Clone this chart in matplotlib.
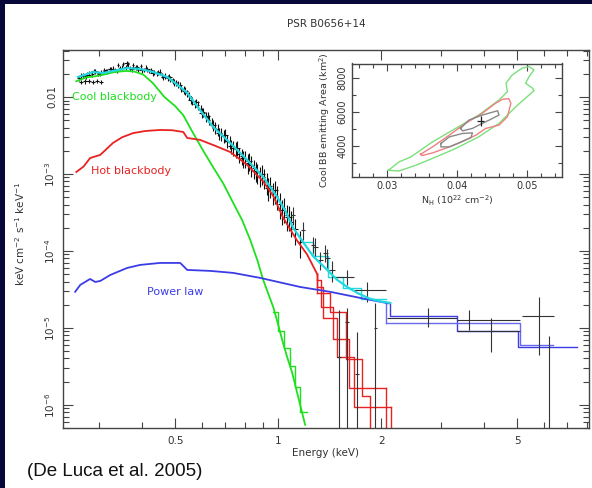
import matplotlib.pyplot as plt
import numpy as np
from matplotlib.ticker import FixedLocator, FixedFormatter, LogLocator, NullFormatter
from matplotlib.patches import Rectangle

plt.close('all')
plt.rcParams['font.family'] = ['DejaVu Sans']

# ---- spectral data points (energy keV, flux keV cm^-2 s^-1 keV^-1) ----
data_e = [0.262, 0.268, 0.274, 0.280, 0.286, 0.292, 0.298, 0.304, 0.310, 0.316,
          0.322, 0.328, 0.334, 0.340, 0.346, 0.352, 0.358, 0.364, 0.370, 0.376,
          0.383, 0.390, 0.397, 0.404, 0.411, 0.418, 0.426, 0.434, 0.442, 0.450,
          0.458, 0.466, 0.475, 0.484, 0.493, 0.502, 0.511, 0.520, 0.530, 0.540,
          0.550, 0.560, 0.571, 0.582, 0.593, 0.604, 0.616, 0.628, 0.640, 0.653,
          0.666, 0.679, 0.693, 0.707, 0.721, 0.736, 0.751, 0.766, 0.782, 0.798,
          0.815, 0.832, 0.850, 0.868, 0.887, 0.906, 0.926, 0.947, 0.968, 0.990,
          1.013, 1.037, 1.062, 1.088]
data_f = [0.0175, 0.0192, 0.0186, 0.0205, 0.0198, 0.0214, 0.0203, 0.0209, 0.0221, 0.0215,
          0.0228, 0.0234, 0.0226, 0.0262, 0.0238, 0.0270, 0.0242, 0.0265, 0.0236, 0.0258,
          0.0240, 0.0229, 0.0250, 0.0225, 0.0240, 0.0218, 0.0224, 0.0210, 0.0203, 0.0211,
          0.0192, 0.0186, 0.0179, 0.0170, 0.0164, 0.0152, 0.0145, 0.0131, 0.0124, 0.0112,
          0.0104, 0.0090, 0.0082, 0.0078, 0.0069, 0.0064, 0.0055, 0.0051, 0.0046, 0.0040,
          0.0038, 0.0033, 0.0031, 0.0027, 0.0026, 0.0022, 0.0021, 0.0018, 0.0017, 0.0016,
          0.0014, 0.0013, 0.00118, 0.00105, 0.00096, 0.00090, 0.00078, 0.00070, 0.00058, 0.00052,
          0.00041, 0.00036, 0.00029, 0.00024]
data_df = [0.0013, 0.0014, 0.0013, 0.0014, 0.0014, 0.0015, 0.0014, 0.0014, 0.0015, 0.0015,
           0.0015, 0.0016, 0.0015, 0.0016, 0.0016, 0.0017, 0.0016, 0.0017, 0.0016, 0.0017,
           0.0017, 0.0016, 0.0017, 0.0016, 0.0017, 0.0016, 0.0017, 0.0016, 0.0016, 0.0017,
           0.0016, 0.0016, 0.0016, 0.0015, 0.0015, 0.0015, 0.0015, 0.0014, 0.0013, 0.0012,
           0.0012, 0.0011, 0.0010, 0.0010, 0.0009, 0.0009, 0.0008, 0.0008, 0.0007, 0.0007,
           0.0007, 0.0006, 0.0006, 0.0005, 0.0005, 0.0005, 0.0005, 0.0004, 0.0004, 0.0004,
           0.0004, 0.0004, 0.00033, 0.00030, 0.00028, 0.00027, 0.00024, 0.00022, 0.00019, 0.00018,
           0.00015, 0.00013, 0.00011, 0.00009]

# second data set, interleaved
data2_e = [0.265, 0.277, 0.289, 0.301, 0.313, 0.325, 0.337, 0.349, 0.361, 0.373,
           0.386, 0.400, 0.414, 0.430, 0.446, 0.462, 0.479, 0.497, 0.515, 0.535,
           0.555, 0.576, 0.598, 0.622, 0.646, 0.672, 0.700, 0.728, 0.758, 0.790,
           0.823, 0.859, 0.896, 0.936, 0.978, 1.025, 1.075, 1.12, 1.16]
data2_f = [0.0190, 0.0196, 0.0218, 0.0200, 0.0219, 0.0231, 0.0219, 0.0241, 0.0274, 0.0230,
           0.0244, 0.0221, 0.0231, 0.0203, 0.0208, 0.0180, 0.0183, 0.0155, 0.0142, 0.0120,
           0.0091, 0.0085, 0.0062, 0.0056, 0.0043, 0.0034, 0.0032, 0.0023, 0.0022, 0.0016,
           0.00148, 0.00110, 0.00101, 0.00066, 0.00061, 0.00034, 0.00028, 0.00019, 0.00013]
data2_df = [0.0014, 0.0014, 0.0015, 0.0014, 0.0015, 0.0016, 0.0015, 0.0017, 0.0018, 0.0016,
            0.0017, 0.0016, 0.0017, 0.0016, 0.0016, 0.0015, 0.0016, 0.0015, 0.0015, 0.0013,
            0.0011, 0.0010, 0.0009, 0.0008, 0.0007, 0.0006, 0.0006, 0.0005, 0.0005, 0.0004,
            0.0004, 0.00032, 0.00029, 0.00022, 0.00020, 0.00012, 0.00010, 0.00007, 0.00005]

# second instrument, lowest energies
low_e = [0.265, 0.272, 0.279, 0.287, 0.295, 0.303]
low_f = [0.0156, 0.0159, 0.0161, 0.0158, 0.0160, 0.0157]
low_df = [0.0010, 0.0010, 0.0010, 0.0010, 0.0010, 0.0010]

# high energy points: energy, bin low/high, flux, flux low/high
hi_e = [1.106, 1.183, 1.266, 1.283, 1.327, 1.372, 1.391, 1.438, 1.591, 1.82, 2.746, 3.62, 4.20, 5.80]
hi_elo = [1.090, 1.165, 1.245, 1.262, 1.305, 1.350, 1.368, 1.410, 1.448, 1.669, 2.08, 3.34, 3.34, 5.17]
hi_ehi = [1.122, 1.200, 1.285, 1.305, 1.350, 1.395, 1.415, 1.466, 1.669, 2.07, 3.34, 5.10, 5.10, 6.42]
hi_f = [2.94e-4, 1.87e-4, 1.20e-4, 1.13e-4, 7.6e-5, 9.4e-5, 8.1e-5, 5.7e-5, 4.6e-5, 3.1e-5, 1.35e-5, 1.27e-5, 9.1e-6, 1.43e-5]
hi_flo = [2.2e-4, 1.4e-4, 0.95e-4, 0.85e-4, 5.6e-5, 7.2e-5, 6.0e-5, 4.0e-5, 3.6e-5, 2.2e-5, 1.03e-5, 0.94e-5, 4.9e-6, 4.5e-6]
hi_fhi = [3.7e-4, 2.4e-4, 1.50e-4, 1.45e-4, 9.8e-5, 1.18e-4, 1.05e-4, 7.4e-5, 5.7e-5, 3.9e-5, 1.82e-5, 1.71e-5, 1.35e-5, 2.53e-5]

# points whose lower error goes off the plot
ul_e = [1.507, 1.591, 1.70, 1.92, 6.20]
ul_f = [4.2e-6, 1.2e-5, 2.5e-6, 1.0e-5, 5.7e-6]
ul_fhi = [1.71e-5, 1.8e-5, 8.9e-6, 2.1e-5, 7.9e-6]

# ---- model components ----
cool_e = [0.257, 0.275, 0.292, 0.31, 0.334, 0.36, 0.38, 0.403, 0.43, 0.465, 0.50, 0.528,
          0.56, 0.60, 0.645, 0.69, 0.737, 0.785, 0.828, 0.87, 0.904, 0.935, 0.967, 1.0,
          1.027, 1.06, 1.099, 1.144, 1.199]
cool_f = [0.0160, 0.0180, 0.0186, 0.0196, 0.0212, 0.0218, 0.0214, 0.0196, 0.0152, 0.0100,
          0.0076, 0.0058, 0.0036, 0.0021, 0.00123, 7.6e-4, 4.3e-4, 2.5e-4, 1.4e-4, 7.5e-5,
          4.2e-5, 2.8e-5, 1.87e-5, 1.1e-5, 7.0e-6, 4.3e-6, 2.6e-6, 1.27e-6, 5.5e-7]
# cool blackbody, second instrument at the highest energies
cool2_edges = [0.967, 1.0, 1.04, 1.08, 1.12, 1.16, 1.21]
cool2_vals = [1.6e-5, 9.0e-6, 5.5e-6, 3.2e-6, 1.7e-6, 8.0e-7]

hot_e = [0.257, 0.27, 0.282, 0.302, 0.329, 0.35, 0.377, 0.41, 0.452, 0.49, 0.528, 0.542,
         0.591, 0.65, 0.724, 0.812, 0.904, 0.967, 1.034, 1.137, 1.215, 1.30]
hot_f = [1.06e-3, 1.25e-3, 1.61e-3, 1.77e-3, 2.53e-3, 3.0e-3, 3.4e-3, 3.62e-3, 3.73e-3,
         3.70e-3, 3.51e-3, 2.94e-3, 2.77e-3, 2.35e-3, 1.93e-3, 1.31e-3, 8.0e-4, 5.2e-4,
         2.7e-4, 1.35e-4, 9.0e-5, 5.0e-5]
# hot blackbody, wide bins of the three instruments (all start at the end of hot_e)
hot1_edges = [1.30, 1.336, 1.448, 1.613, 2.069]
hot1_vals = [4.2e-5, 1.87e-5, 7.2e-6, 1.66e-6]
hot2_edges = [1.30, 1.354, 1.488, 1.669, 2.14]
hot2_vals = [3.4e-5, 1.35e-5, 4.2e-6, 9.4e-7]
hot3_edges = [1.30, 1.42, 1.58, 1.76, 1.859, 1.987]
hot3_vals = [2.8e-5, 1.6e-5, 3.9e-6, 1.31e-6, 3.0e-7]

pl_e = [0.255, 0.264, 0.282, 0.292, 0.302, 0.323, 0.362, 0.395, 0.452, 0.517, 0.528,
        0.542, 0.633, 0.739, 0.886, 1.16, 1.419, 1.737, 2.069]
pl_f = [2.94e-5, 3.62e-5, 4.32e-5, 3.95e-5, 4.07e-5, 4.87e-5, 6.01e-5, 6.58e-5, 6.98e-5,
        6.98e-5, 6.38e-5, 5.66e-5, 5.5e-5, 5.18e-5, 4.46e-5, 3.4e-5, 2.94e-5, 2.45e-5, 2.11e-5]
pl1_edges = [2.069, 2.126, 3.337, 5.03, 7.49]
pl1_vals = [2.11e-5, 1.43e-5, 9.14e-6, 5.66e-6]
pl2_edges = [2.069, 5.10, 6.37]
pl2_vals = [1.16e-5, 6.01e-6]

tot_e = [0.26, 0.288, 0.308, 0.329, 0.362, 0.395, 0.43, 0.474, 0.517, 0.542, 0.591,
         0.646, 0.724, 0.812, 0.904, 0.993, 1.05, 1.106, 1.183, 1.266, 1.391, 1.488,
         1.591, 1.702, 1.85, 2.0, 2.126]
tot_f = [0.0182, 0.0211, 0.0205, 0.0218, 0.0238, 0.0231, 0.0212, 0.0182, 0.0135, 0.0113,
         0.00678, 0.00407, 0.00253, 0.00152, 9.14e-4, 5.03e-4, 3.3e-4, 2.0e-4, 1.3e-4,
         8.5e-5, 5.66e-5, 4.2e-5, 3.4e-5, 2.85e-5, 2.4e-5, 2.2e-5, 2.11e-5]
tot2_edges = [1.183, 1.266, 1.40, 1.55, 1.75, 2.069]
tot2_vals = [1.3e-4, 8.5e-5, 4.6e-5, 3.3e-5, 2.4e-5]

# ---- inset: confidence contours (NH in 1e22 cm^-2, area km^2) ----
c3_nh = [0.0302, 0.0317, 0.0334, 0.0365, 0.0398, 0.0431, 0.0460, 0.0472, 0.0470, 0.0479,
         0.0493, 0.0503, 0.0510, 0.0503, 0.0498, 0.0508, 0.0510, 0.0503, 0.0484, 0.0460,
         0.0431, 0.0398, 0.0370, 0.0341, 0.0317]
c3_area = [2544, 3037, 3333, 4222, 5017, 5806, 6695, 7188, 7686, 8178,
           8575, 8670, 8474, 8077, 7686, 7389, 7247, 6992, 6298, 5314,
           4519, 3831, 3333, 2841, 2503]
c2_nh = [0.0348, 0.0365, 0.0389, 0.0412, 0.0436, 0.0455, 0.0465, 0.0474, 0.0477, 0.0472,
         0.0460, 0.0441, 0.0427, 0.0412, 0.0389, 0.0365, 0.0350]
c2_area = [3493, 3926, 4620, 5314, 5907, 6500, 6737, 6773, 6500, 5705,
           5213, 5017, 4620, 4323, 3926, 3571, 3415]
c1a_nh = [0.0405, 0.0417, 0.0436, 0.0458, 0.0460, 0.0446, 0.0434, 0.0422, 0.0408]
c1a_area = [5017, 5509, 5806, 6061, 5806, 5509, 5272, 5017, 4875]
c1b_nh = [0.0377, 0.0389, 0.0408, 0.0422, 0.0420, 0.0403, 0.0389, 0.0377]
c1b_area = [4128, 4519, 4721, 4756, 4483, 4163, 3926, 3926]
best_nh, best_area = 0.0434, 5480

green = '#1ee01e'
red = '#e82222'
blue = '#3c3ce6'
cyan = '#22d8e0'


def closed(a):
    return list(a) + [a[0]]


def steps(ax, edges, vals, color, start=None, drop=False):
    # histogram-like model bins; start joins it to the end of the fine curve
    if start is not None:
        ax.plot([edges[0], edges[0]], [start, vals[0]], color=color, lw=1.0)
    ax.step(edges, list(vals) + [vals[-1]], where='post', color=color, lw=1.0)
    if drop:
        ax.plot([edges[-1], edges[-1]], [vals[-1], 1e-8], color=color, lw=1.0)


def bin_half_widths(e):
    e = np.array(e)
    mids = np.sqrt(e[1:] * e[:-1])
    lo = e - np.concatenate([[e[0] ** 2 / mids[0]], mids])
    hi = np.concatenate([mids, [e[-1] ** 2 / mids[-1]]]) - e
    return [lo, hi]


fig = plt.figure(figsize=(5.92, 4.88), dpi=100)
fig.patch.set_facecolor('#07073a')
fig.add_artist(Rectangle((5 / 592, 0), 1, 1 - 4 / 488, transform=fig.transFigure,
                         facecolor='white', edgecolor='none', zorder=0))

ax = fig.add_axes([63 / 592, 60 / 488, 526 / 592, 378 / 488])
ax.set_xscale('log')
ax.set_yscale('log')

# data
ax.errorbar(data_e, data_f, xerr=bin_half_widths(data_e), yerr=data_df, fmt='none',
            ecolor='#111111', elinewidth=0.8, zorder=3)
ax.errorbar(data2_e, data2_f, xerr=bin_half_widths(data2_e), yerr=data2_df, fmt='none',
            ecolor='#111111', elinewidth=0.8, zorder=3)
ax.errorbar(low_e, low_f, xerr=0.004, yerr=low_df, fmt='none',
            ecolor='#111111', elinewidth=0.8, zorder=3)
h_e = np.array(hi_e)
h_f = np.array(hi_f)
ax.errorbar(hi_e, hi_f, xerr=[h_e - np.array(hi_elo), np.array(hi_ehi) - h_e],
            yerr=[h_f - np.array(hi_flo), np.array(hi_fhi) - h_f], fmt='none',
            ecolor='#333333', elinewidth=0.8, zorder=3)
u_f = np.array(ul_f)
ax.errorbar(ul_e, ul_f, xerr=0.02, yerr=[u_f - 1e-8, np.array(ul_fhi) - u_f], fmt='none',
            ecolor='#333333', elinewidth=0.8, zorder=3)

# models
ax.plot(cool_e, cool_f, color=green, lw=1.3, zorder=4)
steps(ax, cool2_edges, cool2_vals, green)
ax.plot(hot_e, hot_f, color=red, lw=1.3, zorder=4)
steps(ax, hot1_edges, hot1_vals, red, start=hot_f[-1], drop=True)
steps(ax, hot2_edges, hot2_vals, red, start=hot_f[-1], drop=True)
steps(ax, hot3_edges, hot3_vals, red, start=hot_f[-1], drop=True)
ax.plot(pl_e, pl_f, color=blue, lw=1.3, zorder=4)
steps(ax, pl1_edges, pl1_vals, blue)
steps(ax, pl2_edges, pl2_vals, '#6a6af0', start=pl_f[-1])
ax.plot(tot_e, tot_f, color=cyan, lw=1.6, zorder=5)
steps(ax, tot2_edges, tot2_vals, cyan)

ax.text(0.25, 0.01, 'Cool blackbody', color=green, fontsize=8, va='center')
ax.text(0.284, 1.1e-3, 'Hot blackbody', color=red, fontsize=8, va='center')
ax.text(0.414, 2.9e-5, 'Power law', color=blue, fontsize=8, va='center')

ax.set_xlim(0.235, 8.1)
ax.set_ylim(5e-7, 0.0408)
ax.xaxis.set_major_locator(FixedLocator([0.5, 1, 2, 5]))
ax.xaxis.set_major_formatter(FixedFormatter(['0.5', '1', '2', '5']))
ax.xaxis.set_minor_locator(FixedLocator([0.3, 0.4, 0.6, 0.7, 0.8, 0.9, 3, 4, 6, 7, 8]))
ax.xaxis.set_minor_formatter(NullFormatter())
ax.yaxis.set_major_locator(FixedLocator([1e-6, 1e-5, 1e-4, 1e-3, 1e-2]))
ax.yaxis.set_major_formatter(FixedFormatter([r'$10^{-6}$', r'$10^{-5}$', r'$10^{-4}$',
                                             r'$10^{-3}$', '0.01']))
ax.yaxis.set_minor_locator(LogLocator(base=10, subs=np.arange(2, 10)))
ax.yaxis.set_minor_formatter(NullFormatter())
ax.tick_params(which='both', direction='in', top=True, right=True, colors='#444444',
               labelcolor='#333333', labelsize=7.5)
ax.tick_params(which='major', length=7, width=0.8)
ax.tick_params(which='minor', length=4, width=0.8)
ax.tick_params(axis='x', pad=6)
ax.tick_params(axis='y', pad=4)
for lab in ax.get_yticklabels():
    lab.set_rotation(90)
    lab.set_va('center')
for s in ax.spines.values():
    s.set_color('#444444')
    s.set_linewidth(1.0)

ax.text(0.5, 1 + 26 / 378, 'PSR B0656+14', transform=ax.transAxes, ha='center',
        va='center', fontsize=7.5, color='#333333')
ax.text(0.5, -25 / 378, 'Energy (keV)', transform=ax.transAxes, ha='center',
        va='center', fontsize=7.5, color='#333333')
ax.text(-43 / 526, 0.515, r'keV cm$^{-2}$ s$^{-1}$ keV$^{-1}$', transform=ax.transAxes,
        ha='center', va='center', rotation=90, fontsize=7.5, color='#333333')

# inset
axin = fig.add_axes([352 / 592, 311 / 488, 210 / 592, 113.5 / 488])
axin.plot(closed(c3_nh), closed(c3_area), color='#7be07b', lw=1.0)
axin.plot(closed(c2_nh), closed(c2_area), color='#f08080', lw=1.0)
axin.plot(closed(c1a_nh), closed(c1a_area), color='#888888', lw=1.0)
axin.plot(closed(c1b_nh), closed(c1b_area), color='#888888', lw=1.0)
axin.errorbar(best_nh, best_area, xerr=0.0005, yerr=300, fmt='none', ecolor='#222222', elinewidth=0.9)
axin.set_xlim(0.025, 0.055)
axin.set_ylim(2150, 8850)
axin.xaxis.set_major_locator(FixedLocator([0.03, 0.04, 0.05]))
axin.xaxis.set_major_formatter(FixedFormatter(['0.03', '0.04', '0.05']))
axin.xaxis.set_minor_locator(FixedLocator(np.arange(0.026, 0.055, 0.002)))
axin.yaxis.set_major_locator(FixedLocator([4000, 6000, 8000]))
axin.yaxis.set_major_formatter(FixedFormatter(['4000', '6000', '8000']))
axin.yaxis.set_minor_locator(FixedLocator([3000, 5000, 7000]))
axin.tick_params(which='both', direction='in', top=True, right=True, colors='#444444',
                 labelcolor='#333333', labelsize=7)
axin.tick_params(which='major', length=5, width=0.8)
axin.tick_params(which='minor', length=3, width=0.8)
axin.tick_params(axis='x', pad=3)
for lab in axin.get_yticklabels():
    lab.set_rotation(90)
    lab.set_va('center')
for s in axin.spines.values():
    s.set_color('#444444')
    s.set_linewidth(1.0)
axin.text(0.5, -24 / 113.5, r'N$_\mathregular{H}$ (10$^{22}$ cm$^{-2}$)', transform=axin.transAxes,
          ha='center', va='center', fontsize=6.8, color='#333333')
axin.text(-27 / 210, 0.5, r'Cool BB emitting Area (km$^2$)', transform=axin.transAxes,
          ha='center', va='center', rotation=90, fontsize=6.8, color='#333333')

fig.text(27 / 592, 16 / 488, '(De Luca et al. 2005)', fontsize=13.5, color='#111111',
         family='Liberation Sans', va='center')

plt.savefig('out.png', dpi=100, facecolor=fig.get_facecolor())
